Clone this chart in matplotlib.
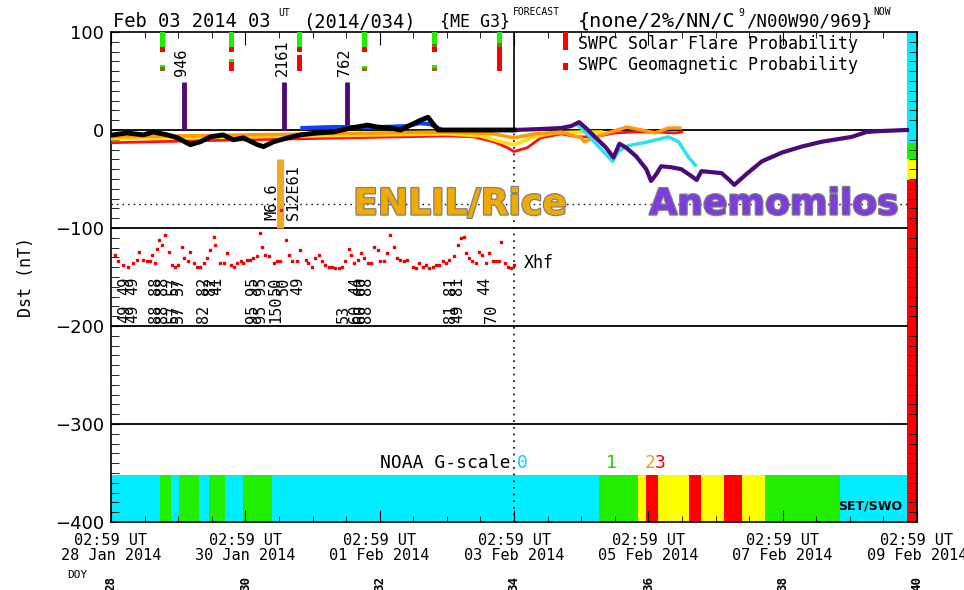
import matplotlib
matplotlib.use("Agg")
import matplotlib.pyplot as plt
import matplotlib.patheffects as pe
from matplotlib.ticker import MultipleLocator

W, H = 964, 590

# x axis: days since 28 Jan 2014 02:59 UT
tick_days = [0, 2, 4, 6, 8, 10, 12]
tick_dates = ["28 Jan 2014", "30 Jan 2014", "01 Feb 2014", "03 Feb 2014",
              "05 Feb 2014", "07 Feb 2014", "09 Feb 2014"]
doy_labels = ["28", "30", "32", "34", "36", "38", "40"]

# observed Dst (black)
obs_day = [0.03, 0.24, 0.48, 0.63, 0.84, 0.99, 1.18, 1.33, 1.48, 1.67, 1.82, 1.97,
           2.18, 2.27, 2.42, 2.63, 2.82, 3.07, 3.31, 3.57, 3.82, 3.97, 4.16, 4.31,
           4.46, 4.61, 4.72, 4.81, 4.87, 5.4, 6.0]
obs_dst = [-5, -3, -5, -2, -5, -8, -15, -12, -7, -5, -10, -8,
           -15, -17, -12, -8, -5, -3, -2, 2, 5, 3, 2, 0,
           5, 10, 13, 5, 0, 0, 0]

# ENLIL/Rice family of model curves
red_day = [0, 0.6, 1.3, 2.0, 2.8, 3.5, 4.3, 5.0, 5.4, 5.7, 5.9, 6.0, 6.2, 6.4,
           6.7, 6.95, 7.2, 7.5, 7.8, 8.1, 8.4, 8.5]
red_dst = [-13, -12, -11, -10, -9, -8, -7, -6, -7, -12, -18, -22, -18, -8,
           -4, -7, -7, -3, -2, -2, -3, -2]
yellow_day = [0, 1, 2, 3, 4, 5, 5.5, 5.8, 6.0, 6.3, 6.6, 7.0, 7.3]
yellow_dst = [-9, -8, -7, -6, -5, -4, -6, -12, -15, -7, -3, -2, -2]
orange_day = [0, 1, 2, 3, 4, 5, 5.7, 6.0, 6.3, 6.7, 7.0, 7.05, 7.3, 7.68, 7.9,
              8.1, 8.3, 8.47]
orange_dst = [-7, -6, -5, -4, -3, -2, -4, -8, -4, -2, -8, -12, -5, 3, 0, -3, 2, 2]
blue_day = [2.85, 3.3, 3.6, 4.0, 4.4, 4.6, 4.75, 4.9]
blue_dst = [2, 3, 3, 3, 4, 7, 6, 1]
cyan_day = [6.95, 7.1, 7.3, 7.47, 7.55, 7.7, 8.0, 8.3, 8.45, 8.6, 8.7]
cyan_dst = [5, -5, -20, -32, -22, -16, -12, -7, -12, -28, -36]

# Anemomilos (purple)
anem_day = [6.0, 6.4, 6.7, 6.85, 6.97, 7.07, 7.22, 7.37, 7.48, 7.57, 7.67, 7.82,
            7.97, 8.04, 8.12, 8.19, 8.34, 8.49, 8.64, 8.72, 8.79, 8.94, 9.09, 9.19,
            9.28, 9.46, 9.69, 9.99, 10.28, 10.58, 11.03, 11.25, 11.48, 11.85]
anem_dst = [0, 1, 2, 4, 8, 2, -8, -18, -28, -14, -18, -27,
            -40, -52, -45, -37, -38, -40, -47, -51, -42, -43, -44, -50,
            -56, -45, -32, -23, -17, -12, -7, -2, -1, 0]

# Xhf points
xhf_day = [0.06, 0.11, 0.18, 0.26, 0.33, 0.38, 0.42, 0.48, 0.53, 0.58, 0.61, 0.66,
           0.68, 0.72, 0.76, 0.81, 0.86, 0.91, 0.96, 1.00, 1.06, 1.08, 1.15, 1.18,
           1.23, 1.28, 1.33, 1.38, 1.43, 1.48, 1.53, 1.55, 1.63, 1.68, 1.73, 1.78,
           1.83, 1.88, 1.93, 1.97, 2.03, 2.07, 2.12, 2.17, 2.22, 2.25, 2.30, 2.35,
           2.42, 2.47, 2.52, 2.60, 2.65, 2.70, 2.77, 2.82, 2.90, 2.94, 2.99, 3.04,
           3.09, 3.14, 3.19, 3.24, 3.29, 3.34, 3.39, 3.44, 3.49, 3.54, 3.57, 3.62,
           3.67, 3.72, 3.77, 3.82, 3.87, 3.91, 3.97, 4.01, 4.06, 4.11, 4.16, 4.21,
           4.26, 4.31, 4.36, 4.41, 4.49, 4.54, 4.59, 4.64, 4.69, 4.74, 4.79, 4.84,
           4.89, 4.94, 4.99, 5.03, 5.11, 5.16, 5.21, 5.26, 5.28, 5.33, 5.38, 5.43,
           5.48, 5.53, 5.58, 5.63, 5.68, 5.73, 5.78, 5.81, 5.86, 5.91, 5.96, 6.00]
xhf_dst = [-128, -134, -138, -140, -136, -133, -124, -133, -134, -134, -128, -136,
           -121, -112, -117, -107, -124, -138, -140, -138, -119, -131, -134, -124,
           -136, -140, -140, -136, -131, -122, -109, -117, -136, -136, -126, -138,
           -140, -136, -134, -136, -133, -133, -131, -129, -105, -119, -128, -129,
           -136, -134, -134, -112, -128, -134, -134, -122, -133, -136, -140, -131,
           -128, -134, -138, -140, -140, -141, -141, -140, -134, -121, -128, -136,
           -133, -126, -131, -136, -136, -119, -122, -134, -134, -126, -107, -119,
           -131, -133, -134, -133, -140, -141, -136, -140, -138, -141, -140, -138,
           -138, -134, -136, -133, -129, -117, -110, -109, -126, -131, -134, -136,
           -124, -128, -136, -126, -134, -134, -134, -114, -136, -140, -141, -138]

# rotated numbers under the Xhf points (day, top row, bottom row)
num_day = [0.21, 0.33, 0.66, 0.76, 0.93, 1.01, 1.37, 1.48, 1.57, 2.10, 2.22, 2.45,
           2.57, 2.78, 3.46, 3.64, 3.72, 3.80, 5.06, 5.16, 5.57, 5.66]
num_top = ["49", "49", "88", "88", "57", "57", "82", "82", "41", "95", "95", "50",
           "50", "49", "", "44", "60", "88", "81", "81", "44", ""]
num_bot = ["49", "49", "88", "88", "57", "57", "82", "", "", "95", "95", "150",
           "", "", "53", "60", "60", "88", "81", "49", "", "70"]

# CME speed spikes
cme_day = [1.087, 2.576, 3.513]
cme_top = [49, 49, 49]
cme_text = ["946", "2161", "762"]

# SWPC probability bars
swpc_day = [0.77, 1.80, 2.80, 3.78, 4.81, 5.79]
flare_green = [15, 15, 15, 15, 12, 11]
flare_brown = [0, 0, 0, 0, 3, 4]
flare_red = [5, 5, 5, 5, 5, 5]
geo_low = [4, 9, 17, 3, 3, 20]
geo_low_color = ["#8a6a20", "#ff0000", "#ff0000", "#8a6a20", "#8a6a20", "#ff0000"]
geo_green = [2, 3, 0, 2, 3, 0]

# NOAA G-scale strip
g_start = [0.73, 1.01, 1.46, 1.97, 7.27, 7.85, 7.96, 8.15, 8.60, 8.78, 9.13, 9.40, 9.73]
g_end = [0.90, 1.31, 1.69, 2.39, 7.85, 7.96, 8.15, 8.60, 8.78, 9.13, 9.40, 9.73, 10.85]
g_color = ["g", "g", "g", "g", "g", "y", "r", "y", "r", "y", "r", "y", "g"]

# right-hand colour key
key_low = [-13, -30, -51, -400]
key_high = [100, -13, -30, -51]
key_color = ["c", "g", "y", "r"]

COL = {"c": "#00eeff", "g": "#22ee00", "y": "#ffff00", "r": "#ff0000"}
PURPLE = "#4b0a78"
MONO = "DejaVu Sans Mono"
END = 11.85

fig = plt.figure(figsize=(W / 100, H / 100), dpi=100)
ax = fig.add_axes([111 / W, 1 - 522 / H, (917 - 111) / W, (522 - 32) / H])
ax.set_xlim(0, 12)
ax.set_ylim(-400, 100)


def ftext(x, y, s, **kw):
    fig.text(x / W, 1 - y / H, s, **kw)


# G-scale strip and colour key
ax.bar(END / 2, 48, width=END, bottom=-400, color=COL["c"], lw=0, zorder=1)
for s, e, c in zip(g_start, g_end, g_color):
    ax.bar((s + e) / 2, 48, width=e - s, bottom=-400, color=COL[c], lw=0, zorder=1)
for lo, hi, c in zip(key_low, key_high, key_color):
    ax.bar((END + 12) / 2, hi - lo, width=12 - END, bottom=lo, color=COL[c], lw=0, zorder=1)

# reference lines
for yv in [0, -100, -200, -300]:
    ax.plot([0, END], [yv, yv], color="black", lw=1.3, zorder=2)
ax.plot([0, END], [-75, -75], color="black", lw=1, ls=(0, (1, 3)), zorder=2)
ax.plot([6, 6], [0, 100], color="black", lw=1.2, zorder=2)
ax.plot([6, 6], [-400, 0], color="black", lw=1.2, ls=(0, (1, 3)), zorder=2)

# SWPC bars
bw = 0.075
for d, g, b, r, lo, lc, gg in zip(swpc_day, flare_green, flare_brown, flare_red,
                                   geo_low, geo_low_color, geo_green):
    ax.bar(d, -g, width=bw, bottom=100, color=COL["g"], lw=0, zorder=3)
    ax.bar(d, -b, width=bw, bottom=100 - g, color="#8a6a20", lw=0, zorder=3)
    ax.bar(d, -r, width=bw, bottom=100 - g - b, color="#ff0000", lw=0, zorder=3)
    ax.bar(d, lo, width=bw, bottom=60, color=lc, lw=0, zorder=3)
    ax.bar(d, gg, width=bw, bottom=60 + lo, color=COL["g"], lw=0, zorder=3)

ax.bar(6.76, -18, width=bw, bottom=100, color="#ff0000", lw=0, zorder=3)
ax.bar(6.76, 7, width=bw, bottom=61, color="#ff0000", lw=0, zorder=3)
ax.text(6.95, 88, "SWPC Solar Flare Probability", fontsize=12, family=MONO, va="center")
ax.text(6.95, 66, "SWPC Geomagnetic Probability", fontsize=12, family=MONO, va="center")

# CME spikes
ax.vlines(cme_day, 0, cme_top, color=PURPLE, lw=3.5, zorder=3)
for d, t in zip(cme_day, cme_text):
    ax.text(d - 0.03, 55, t, rotation=90, ha="center", va="bottom",
            fontsize=11, family=MONO)

# flare marker
ax.vlines(2.52, -100, -30, color="#f5a623", lw=5, zorder=3)
ax.plot(2.53, -82, "s", color="red", ms=2, zorder=4)
ax.text(2.40, -92, "M6.6", rotation=90, ha="center", va="bottom", fontsize=11, family=MONO)
ax.text(2.71, -92, "S12E61", rotation=90, ha="center", va="bottom", fontsize=11, family=MONO)

# model curves
ax.plot(red_day, red_dst, color="#ff1010", lw=2, zorder=4)
ax.plot(yellow_day, yellow_dst, color="#ffe000", lw=2.5, zorder=4)
ax.plot(orange_day, orange_dst, color="#ff9a00", lw=2.5, zorder=4)
ax.plot(blue_day, blue_dst, color="#1040ff", lw=3, zorder=4)
ax.plot(cyan_day, cyan_dst, color="#30e0f0", lw=2.5, zorder=5)
ax.plot(anem_day, anem_dst, color=PURPLE, lw=3, zorder=5)
ax.plot(obs_day, obs_dst, color="black", lw=3.5, zorder=6)

# Xhf
ax.plot(xhf_day, xhf_dst, "s", color="#ee0000", ms=1.7, zorder=4)
ax.text(6.15, -136, "Xhf", fontsize=12, family=MONO, va="center")
for d, t, b in zip(num_day, num_top, num_bot):
    if t:
        ax.text(d, -168, t, rotation=90, ha="center", va="bottom", fontsize=11, family=MONO)
    if b:
        ax.text(d, -197, b, rotation=90, ha="center", va="bottom", fontsize=11, family=MONO)

# big model names
stroke = [pe.withStroke(linewidth=1.8, foreground="#808080")]
ax.text(5.2, -76, "ENLIL/Rice", color="#f2a900", fontsize=26, fontweight="bold",
        ha="center", va="center", path_effects=stroke, zorder=7)
ax.text(9.87, -76, "Anemomilos", color="#7d3cdc", fontsize=26, fontweight="bold",
        ha="center", va="center", path_effects=stroke, zorder=7)

# G-scale annotations
ax.text(5.95, -340, "NOAA G-scale", fontsize=13, family=MONO, ha="right", va="center")
for d, t, c in zip([6.05, 7.37, 7.95, 8.1], ["0", "1", "2", "3"],
                   ["#00d8f0", "#22cc00", "#f0a030", "#ee0000"]):
    ax.text(d, -340, t, color=c, fontsize=13, family=MONO, va="center")
ax.text(11.78, -384, "SET/SWO", fontsize=9, fontweight="bold", ha="right", va="center")

# axes styling
for sp in ax.spines.values():
    sp.set_linewidth(1.2)
ax.set_xticks(tick_days)
ax.set_xticklabels(["02:59 UT\n" + t for t in tick_dates], family=MONO, fontsize=11,
                   linespacing=1.0)
ax.xaxis.set_minor_locator(MultipleLocator(0.5))
ax.tick_params(axis="x", which="major", direction="in", length=9, top=True, pad=8)
ax.tick_params(axis="x", which="minor", direction="in", length=4, top=True)
ax.set_yticks([100, 0, -100, -200, -300, -400])
ax.yaxis.set_minor_locator(MultipleLocator(10))
ax.tick_params(axis="y", which="both", direction="in", length=6, labelsize=13, pad=5)
ax.tick_params(axis="y", which="minor", right=True)
ax.set_ylabel("Dst (nT)", family=MONO, fontsize=12, labelpad=14)

# title pieces
ftext(113, 27, "Feb 03 2014 03", family=MONO, fontsize=13.5, va="baseline")
ftext(278, 16, "UT", family=MONO, fontsize=7, va="baseline")
ftext(303, 27, "(2014/034)", family=MONO, fontsize=13.5, va="baseline")
ftext(440, 27, "{ME G3}", family=MONO, fontsize=12, va="baseline")
ftext(513, 15, "FORECAST", family=MONO, fontsize=7, va="baseline")
ftext(578, 27, "{none/2%/NN/C", family=MONO, fontsize=14.5, va="baseline")
ftext(738, 16, "9", family=MONO, fontsize=7, va="baseline")
ftext(746, 27, "/N00W90/969}", family=MONO, fontsize=12.5, va="baseline")
ftext(873, 15, "NOW", family=MONO, fontsize=7, va="baseline")

# DOY row
ftext(67, 578, "DOY", family=MONO, fontsize=8, va="baseline")
for d, t in zip(tick_days, doy_labels):
    x = 111 + d * (917 - 111) / 12
    ftext(x, 591, t, family=MONO, fontsize=9, fontweight="bold", rotation=90,
          ha="center", va="bottom")

fig.savefig("out.png", dpi=100)
